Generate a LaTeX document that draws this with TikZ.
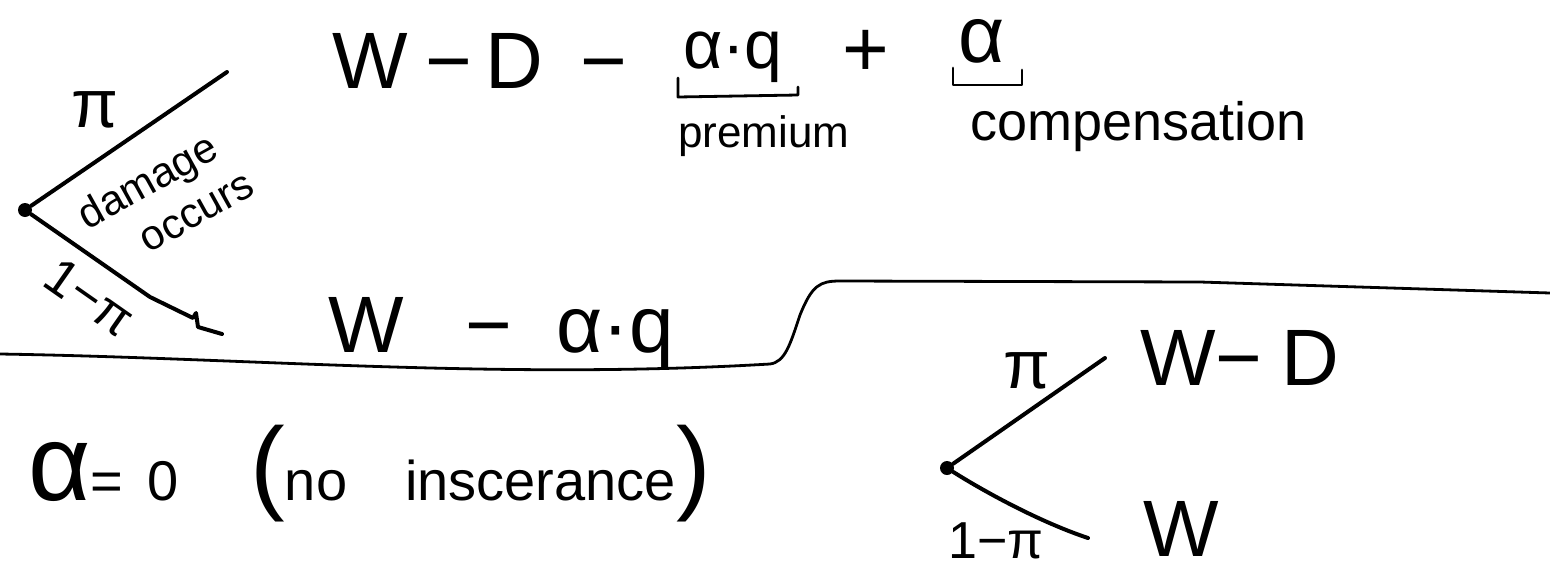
\documentclass[tikz,border=0pt]{standalone}
\usepackage{fontspec}
\setmainfont{Liberation Sans}
\begin{document}
\begin{tikzpicture}[x=0.5pt,y=-0.5pt,
  txt/.style={inner sep=0pt, outer sep=0pt},
  bigf/.style={txt, font=\fontsize{40}{48}\selectfont},
  midf/.style={txt, font=\fontsize{34}{40}\selectfont},
  lblf/.style={txt, font=\fontsize{26}{30}\selectfont},
  pif/.style={txt, font=\fontsize{34}{40}\selectfont},
  notef/.style={txt, font=\fontsize{21}{25}\selectfont},
  pen/.style={line width=2pt, line cap=round, line join=round},
  thinpen/.style={line width=1.4pt, line cap=round, line join=round},
  chance/.style={circle, fill=black, inner sep=0pt, minimum size=7pt}]
\useasboundingbox (0,0) rectangle (1550,573);
% top-left tree
\node[chance] (r1) at (25,210) {};
\coordinate (r1u) at (227,72);
\coordinate (r1d) at (222,334);
\draw[pen] (r1) -- (r1u);
\draw[pen] (r1) -- (150,297) -- (193,318) -- (196,313) -- (198,327) -- (r1d);
\node[pif] (p1) at (95,110) {π};
\node[notef, rotate=29, align=center] (dmg) at (159,202) {damage\\\hspace*{28pt}occurs};
\node[lblf, rotate=-35] (q1) at (90,297) {1−π};
% top formula
\node[bigf, anchor=base west] (f1) at (332,88) {W\hspace{9pt}−\hspace{6.5pt}D\hspace{18.5pt}−};
\node[midf, anchor=base west] (f2) at (683,68) {α·q};
\node[bigf, anchor=base] (f3) at (866,76) {+};
\node[bigf, anchor=base west] (f4) at (958,62) {α};
\coordinate (b1a) at (678,78);
\coordinate (b1b) at (798,87);
\coordinate (b2a) at (953,68);
\coordinate (b2b) at (1022,70);
\draw[thinpen] (b1a) -- (678,97) -- (798,95) -- (b1b);
\draw[thinpen] (b2a) -- (953,85) -- (1022,85) -- (b2b);
\node[txt, font=\fontsize{22}{26}\selectfont, anchor=base west] (prem) at (678,147) {premium};
\node[txt, font=\fontsize{27}{32}\selectfont, anchor=base west] (comp) at (970,140) {compensation};
% middle outcome
\node[bigf, anchor=base west] (m1) at (328,352) {W\hspace{31pt}−\hspace{22pt}α·q};
% separator
\coordinate (sL) at (0,354);
\coordinate (sR) at (1550,293);
\draw[thinpen] (sL) .. controls (250,358) and (500,380) .. (770,364) .. controls (785,362) and (790,345) .. (800,315) .. controls (812,285) and (820,281) .. (840,281) -- (1200,282) -- (sR);
% bottom-left note
\node[txt, font=\fontsize{28}{32}\selectfont, anchor=base west] (nz) at (28,500) {{\fontsize{54}{54}\selectfont α}=\hspace{12pt}0\hspace{36pt}{\fontsize{52}{52}\selectfont(}no\hspace{29pt}inscerance{\fontsize{52}{52}\selectfont)}};
% bottom-right tree
\node[chance] (r2) at (947,468) {};
\coordinate (r2u) at (1105,358);
\coordinate (r2d) at (1088,538);
\draw[pen] (r2) -- (r2u);
\draw[pen] (r2) .. controls (985,492) and (1040,522) .. (r2d);
\node[pif] (p2) at (1027,371) {π};
\node[lblf] (q2) at (996,541) {1−π};
\node[bigf, anchor=base west] (o1) at (1140,385) {W−\hspace{9.5pt}D};
\node[bigf, anchor=base west] (o2) at (1143,556) {W};
\end{tikzpicture}
\end{document}
